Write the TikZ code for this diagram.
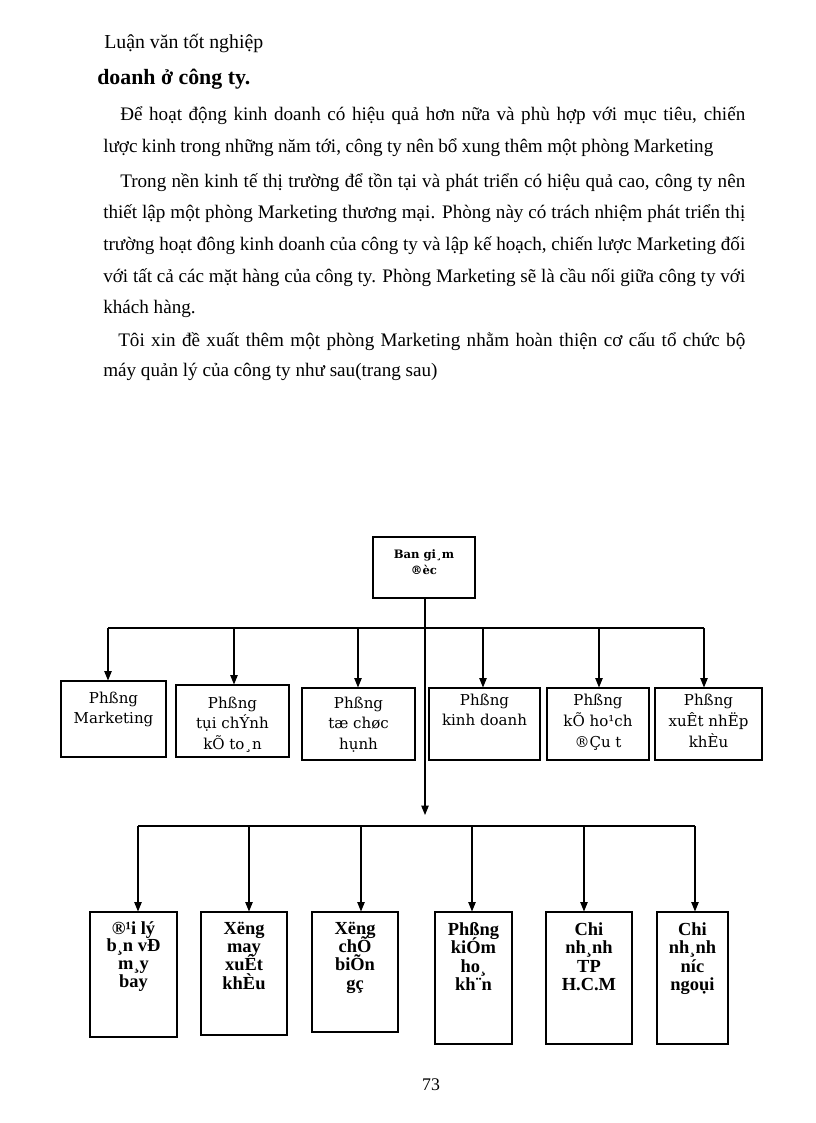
\documentclass[tikz,border=0pt]{standalone}
\usepackage{fontspec}
\setmainfont{Liberation Serif}
\newfontfamily\boxfont{DejaVu Serif}
\usetikzlibrary{arrows.meta}
\newlength\px \setlength\px{0.25735mm}
\def\u{0.25735mm}
\newcommand\stk[2]{\vtop{\baselineskip=#1\lineskiplimit=-100pt\lineskip=0pt\halign{\hfil##\hfil\cr#2\crcr}}}
\begin{document}
\begin{tikzpicture}[x=0.25735mm,y=-0.25735mm,
  bodyline/.style={anchor=base west,inner sep=0,font=\fontsize{14}{17}\selectfont},
  box/.style={draw,line width=0.8pt,inner sep=0},
  toptext/.style={anchor=base,inner sep=0,font=\boxfont\fontsize{11}{15}\selectfont},
  headtext/.style={anchor=base,inner sep=0,font=\boxfont\bfseries\fontsize{8.5}{12}\selectfont},
  bottext/.style={anchor=base,inner sep=0,font=\bfseries\fontsize{13.5}{14}\selectfont},
  conn/.style={line width=0.75pt},
  arr/.style={line width=0.75pt,-{Triangle[length=2.4mm,width=1.9mm]}}]
\useasboundingbox[fill=white] (0,0) rectangle (816,1123);

% ---- page text ----
\node[bodyline,font=\fontsize{14.5}{17}\selectfont] (hdr) at (104,49) {Luận văn tốt nghiệp};
\node[bodyline,font=\bfseries\fontsize{16}{19}\selectfont] (ttl) at (97,85) {doanh ở công ty.};
\node[bodyline] (l1) at (120,121) {\makebox[625\px][s]{Để hoạt động kinh  doanh có hiệu quả hơn nữa và phù hợp với mục tiêu, chiến}};
\node[bodyline] (l2) at (103,153) {\makebox[610\px][s]{lược kinh trong những năm tới, công ty nên bổ xung thêm một phòng Marketing}};
\node[bodyline] (l3) at (120,187) {\makebox[625\px][s]{Trong nền kinh tế thị trường để tồn tại và phát triển có hiệu quả cao, công ty nên}};
\node[bodyline] (l4) at (103,218) {\makebox[642\px][s]{thiết lập một phòng Marketing thương mại. Phòng này có trách nhiệm phát triển thị}};
\node[bodyline] (l5) at (103,250) {\makebox[642\px][s]{trường hoạt đông kinh doanh của công ty và lập kế hoạch, chiến lược Marketing đối}};
\node[bodyline] (l6) at (103,282) {\makebox[642\px][s]{với tất cả các mặt hàng của công ty. Phòng Marketing sẽ là cầu nối giữa công ty với}};
\node[bodyline] (l7) at (103,313) {khách hàng.};
\node[bodyline] (l8) at (118,346) {\makebox[627\px][s]{Tôi xin đề xuất thêm một phòng Marketing nhằm hoàn thiện cơ cấu tổ chức bộ}};
\node[bodyline] (l9) at (103,376) {máy quản lý của công ty như sau(trang sau)};
\node[anchor=base,inner sep=0,font=\fontsize{13}{15}\selectfont] (pg) at (431,1090) {73};

% ---- top box ----
\node[box,minimum width={102*\u},minimum height={61*\u}] (gd) at (424,567.5) {};
\node[headtext] (gdt) at (424,558) {\stk{12.4pt}{Ban gi¸m\cr ®èc}};

% ---- first row ----
\node[box,minimum width={105*\u},minimum height={76*\u}] (p1) at (113.5,719) {};
\node[box,minimum width={113*\u},minimum height={72*\u}] (p2) at (232.5,721) {};
\node[box,minimum width={113*\u},minimum height={72*\u}] (p3) at (358.5,724) {};
\node[box,minimum width={111*\u},minimum height={72*\u}] (p4) at (484.5,724) {};
\node[box,minimum width={102*\u},minimum height={72*\u}] (p5) at (598,724) {};
\node[box,minimum width={107*\u},minimum height={72*\u}] (p6) at (708.5,724) {};
\node[toptext] (p1t) at (113.5,703) {\stk{15pt}{Phßng\cr Marketing}};
\node[toptext] (p2t) at (232.5,708) {\stk{15.3pt}{Phßng\cr tụi chÝnh\cr kÕ to¸n}};
\node[toptext] (p3t) at (358.5,708) {\stk{15.3pt}{Phßng\cr tæ chøc\cr hụnh}};
\node[toptext] (p4t) at (484.5,705) {\stk{15pt}{Phßng\cr kinh doanh}};
\node[toptext] (p5t) at (598,705) {\stk{15.5pt}{Phßng\cr kÕ ho¹ch\cr ®Çu t}};
\node[toptext] (p6t) at (708.5,705) {\stk{15.5pt}{Phßng\cr xuÊt nhËp\cr khÈu}};

% ---- second row ----
\node[box,minimum width={87*\u},minimum height={125*\u}] (b1) at (133.5,974.5) {};
\node[box,minimum width={86*\u},minimum height={123*\u}] (b2) at (244,973.5) {};
\node[box,minimum width={86*\u},minimum height={120*\u}] (b3) at (355,972) {};
\node[box,minimum width={77*\u},minimum height={132*\u}] (b4) at (473.5,978) {};
\node[box,minimum width={86*\u},minimum height={132*\u}] (b5) at (589,978) {};
\node[box,minimum width={71*\u},minimum height={132*\u}] (b6) at (692.5,978) {};
\node[bottext] (b1t) at (133.5,934) {\stk{13pt}{®¹i lý\cr b¸n vÐ\cr m¸y\cr bay}};
\node[bottext] (b2t) at (244,934) {\stk{13.5pt}{Xëng\cr may\cr xuÊt\cr khÈu}};
\node[bottext] (b3t) at (355,934) {\stk{13.5pt}{Xëng\cr chÕ\cr biÕn\cr gç}};
\node[bottext] (b4t) at (473.5,935) {\stk{13.6pt}{Phßng\cr kiÓm\cr ho¸\cr kh¨n}};
\node[bottext] (b5t) at (589,935) {\stk{13.6pt}{Chi\cr nh¸nh\cr TP\cr H.C.M}};
\node[bottext] (b6t) at (692.5,935) {\stk{13.6pt}{Chi\cr nh¸nh\cr níc\cr ngoụi}};

% ---- connectors ----
\coordinate (trunkend) at (425,815);
\draw[arr] (gd.south -| trunkend) -- (trunkend);

\coordinate (d1) at (108,628);
\coordinate (d2) at (234,628);
\coordinate (d3) at (358,628);
\coordinate (d4) at (483,628);
\coordinate (d5) at (599,628);
\coordinate (d6) at (704,628);
\draw[conn] (d1) -- (d6);
\foreach \i in {1,...,6} {\draw[arr] (d\i) -- (d\i |- p\i.north);}

\coordinate (e1) at (138,826);
\coordinate (e2) at (249,826);
\coordinate (e3) at (361,826);
\coordinate (e4) at (472,826);
\coordinate (e5) at (584,826);
\coordinate (e6) at (695,826);
\draw[conn] (e1) -- (e6);
\foreach \i in {1,...,6} {\draw[arr] (e\i) -- (e\i |- b\i.north);}
\end{tikzpicture}
\end{document}
